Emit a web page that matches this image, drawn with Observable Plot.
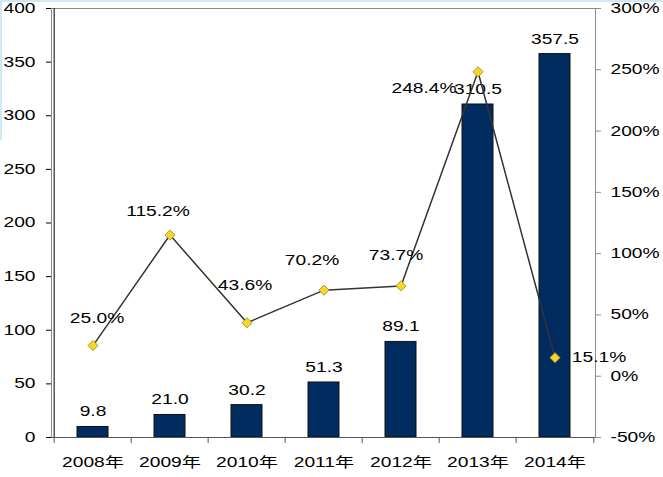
<!DOCTYPE html>
<html>
<head>
<meta charset="utf-8">
<script src="https://cdn.jsdelivr.net/npm/d3@7"></script>
<script src="https://cdn.jsdelivr.net/npm/@observablehq/plot@0.6"></script>
<style>
  html, body { margin: 0; padding: 0; background: #fff; }
  #wrap { position: relative; width: 663px; height: 477px; }
  #topline { position: absolute; left: 0; top: 0; width: 663px; height: 2px; background: #cfe9f1; }
  #leftline { position: absolute; left: 0; top: 0; width: 2px; height: 140px; background: #cfe9f1; }
</style>
</head>
<body>
<div id="wrap"><div id="chart"></div><div id="topline"></div><div id="leftline"></div></div>
<script>
// ---- data ----
const years = ["2008年", "2009年", "2010年", "2011年", "2012年", "2013年", "2014年"];
const values = [9.8, 21.0, 30.2, 51.3, 89.1, 310.5, 357.5];
const growth = [25.0, 115.2, 43.6, 70.2, 73.7, 248.4, 15.1];
const leftTicks = [0, 50, 100, 150, 200, 250, 300, 350, 400];
const rightTicks = [-50, 0, 50, 100, 150, 200, 250, 300];

// ---- layout / style ----
const width = 663, height = 477;
const marginLeft = 51, marginRight = 68, marginTop = 8, marginBottom = 40;
const step = (width - marginLeft - marginRight) / years.length;
const frameH = height - marginTop - marginBottom;
// growth label offsets (px) relative to each marker
const growthLabelOffsets = [[4, -27], [-12, -23], [-2, -37], [-12, -30], [-5, -30], [-54, 17], [44, 0]];

// map percent onto the left (value) scale: -50% -> 0, 300% -> 400
const toY = p => (p + 50) * 400 / 350;
const fromY = y => y * 350 / 400 - 50;

const idx = years.map((_, i) => i);

const marks = [
  Plot.frame({stroke: "#8c8c8c"}),
  Plot.barY(idx, {x: i => years[i], y: i => values[i], fill: "#002c5f", stroke: "#111", strokeWidth: 1}),
  Plot.text(idx, {x: i => years[i], y: i => values[i], text: i => values[i].toFixed(1), dy: -15, fill: "#000"}),
  Plot.line(idx, {x: i => years[i], y: i => toY(growth[i]), stroke: "#333", strokeWidth: 1.5}),
  Plot.dot(idx, {x: i => years[i], y: i => toY(growth[i]), symbol: "diamond2", r: 4.6, fill: "#f5d629", stroke: "#9c8a1a", strokeWidth: 0.8}),
  ...idx.map(i => Plot.text([i], {
    x: d => years[d], y: d => toY(growth[d]), text: d => growth[d].toFixed(1) + "%",
    dx: growthLabelOffsets[i][0], dy: growthLabelOffsets[i][1], fill: "#000"
  })),
  // x-axis category boundary ticks
  Plot.ruleX(idx, {x: i => years[i], dx: -step / 2, stroke: "#555", insetTop: frameH, insetBottom: -6}),
  Plot.ruleX([years.length - 1], {x: i => years[i], dx: step / 2, stroke: "#555", insetTop: frameH, insetBottom: -6}),
  // left axis line
  Plot.ruleX([0], {x: i => years[i], dx: -step / 2, stroke: "#000", strokeWidth: 1}),
  Plot.ruleY([0], {stroke: "#555"}),
  Plot.axisY(leftTicks, {anchor: "left", tickSize: 5, tickPadding: 11, stroke: "#000", fill: "#000", tickFormat: d => String(d)}),
  Plot.axisY(rightTicks.map(toY), {anchor: "right", tickSize: 5, tickPadding: 10, stroke: "#8c8c8c", fill: "#000", tickFormat: d => Math.round(fromY(d)) + "%"}),
  Plot.axisX({tickSize: 0, tickPadding: 20, fill: "#000"})
];

const chart = Plot.plot({
  width, height, marginLeft, marginRight, marginTop, marginBottom,
  style: {fontFamily: "'Liberation Sans', Arial, 'Noto Sans CJK SC', sans-serif", fontSize: "14px", background: "#fff", color: "#000"},
  x: {type: "band", domain: years, paddingInner: 0.6, paddingOuter: 0.3, label: null},
  y: {domain: [0, 400], label: null},
  marks
});

// the reference type is horizontally stretched; widen each text around its anchor
chart.querySelectorAll("text").forEach(t => {
  const tr = t.getAttribute("transform");
  if (tr) {
    t.setAttribute("transform", tr + " scale(1.37,1)");
  } else {
    const x = +(t.getAttribute("x") || 0), y = +(t.getAttribute("y") || 0);
    t.removeAttribute("x"); t.removeAttribute("y");
    t.setAttribute("transform", `translate(${x},${y}) scale(1.37,1)`);
  }
});

document.getElementById("chart").appendChild(chart);
</script>
</body>
</html>
